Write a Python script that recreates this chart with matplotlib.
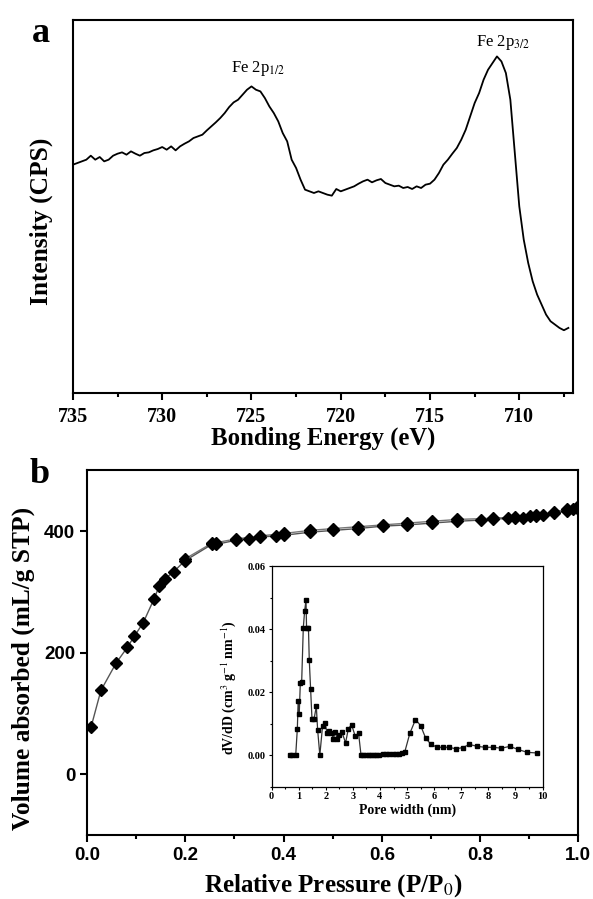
import numpy as np
import matplotlib.pyplot as plt
from matplotlib.ticker import MultipleLocator, NullLocator

# ---- panel a: Fe 2p XPS spectrum (arbitrary counts, 0.25 eV steps) ----
xps_start = 735.0
xps_end = 707.25
xps_counts = [685, 690, 695, 700, 712, 700, 708, 695, 700, 712, 718, 722, 715, 725, 718, 712,
              720, 722, 728, 732, 738, 730, 740, 728, 740, 748, 755, 765, 770, 775, 788, 800,
              812, 825, 840, 858, 872, 880, 895, 910, 920, 910, 905, 885, 860, 840, 815, 780,
              755, 700, 675, 640, 610, 605, 600, 605, 600, 595, 592, 612, 605, 610, 615, 620,
              628, 635, 640, 632, 638, 642, 630, 625, 620, 622, 615, 618, 612, 620, 615, 625,
              628, 640, 660, 685, 700, 718, 735, 760, 790, 830, 870, 900, 940, 970, 990, 1010,
              995, 960, 880, 720, 560, 460, 390, 335, 295, 265, 235, 215, 205, 195, 188, 195]
xps_energy = np.linspace(xps_start, xps_end, len(xps_counts))

# ---- panel b: N2 isotherm ----
p_ads = [0.008, 0.028, 0.059, 0.082, 0.096, 0.114, 0.136, 0.147, 0.158, 0.176, 0.199, 0.254,
         0.263, 0.304, 0.329, 0.353, 0.384, 0.401, 0.453, 0.501, 0.551, 0.602, 0.652, 0.702,
         0.754, 0.803, 0.826, 0.857, 0.871, 0.887, 0.902, 0.915, 0.929, 0.950, 0.978, 0.989, 0.998]
v_ads = [78, 138, 183, 209, 227, 249, 288, 310, 321, 333, 351, 378,
         378, 385, 387, 390, 392, 393, 398, 401, 404, 408, 410, 413,
         416, 418, 419, 421, 421, 422, 424, 425, 426, 429, 433, 436, 438]
p_des = [0.998, 0.978, 0.950, 0.915, 0.871, 0.826, 0.754, 0.702, 0.652, 0.602, 0.551, 0.501,
         0.453, 0.401, 0.353, 0.304, 0.263, 0.254, 0.199]
v_des = [440, 436, 431, 427, 423, 421, 419, 416, 413, 410, 407, 404,
         401, 396, 392, 387, 381, 380, 354]

# ---- inset: pore size distribution ----
pore_w = [0.68, 0.77, 0.89, 0.95, 0.98, 1.02, 1.06, 1.11, 1.17, 1.22, 1.27, 1.29, 1.36, 1.39,
          1.44, 1.49, 1.57, 1.65, 1.70, 1.78, 1.88, 1.97, 2.05, 2.13, 2.21, 2.28, 2.35, 2.42,
          2.50, 2.59, 2.73, 2.83, 2.95, 3.08, 3.21, 3.30, 3.38, 3.48, 3.58, 3.68, 3.78, 3.87,
          3.97, 4.10, 4.22, 4.34, 4.47, 4.59, 4.71, 4.81, 4.91, 5.10, 5.31, 5.50, 5.69, 5.89,
          6.11, 6.33, 6.56, 6.80, 7.05, 7.30, 7.59, 7.88, 8.18, 8.48, 8.79, 9.10, 9.43, 9.78]
dvdd = [0, 0, 0, 0.0084, 0.0172, 0.0131, 0.0229, 0.0233, 0.0405, 0.0459, 0.0493, 0.0405, 0.0405, 0.0303,
        0.0210, 0.0116, 0.0116, 0.0155, 0.0079, 0.0, 0.0092, 0.0102, 0.0069, 0.0077, 0.0071, 0.0052, 0.0073, 0.0052,
        0.0064, 0.0075, 0.0039, 0.0083, 0.0097, 0.0062, 0.0069, 0, 0, 0, 0, 0, 0, 0,
        0, 0.0004, 0.0004, 0.0003, 0.0003, 0.0004, 0.0005, 0.0006, 0.0009, 0.0069, 0.0113, 0.0094, 0.0053, 0.0034,
        0.0025, 0.0025, 0.0025, 0.0020, 0.0024, 0.0034, 0.0028, 0.0025, 0.0025, 0.0022, 0.0028, 0.0018, 0.0009, 0.0007]

serif = 'Liberation Serif'
sans = 'Liberation Sans'

fig = plt.figure(figsize=(5.93, 8.99), dpi=100)

# panel a
ax1 = fig.add_axes([0.123, 0.563, 0.843, 0.415])
ax1.plot(xps_energy, xps_counts, color='black', lw=1.3)
ax1.set_xlim(735, 707)
ax1.set_ylim(0, 1120)
ax1.xaxis.set_major_locator(MultipleLocator(5))
ax1.xaxis.set_minor_locator(MultipleLocator(2.5))
ax1.yaxis.set_major_locator(NullLocator())
ax1.tick_params(axis='x', which='major', direction='out', length=5, width=1.5, pad=5)
ax1.tick_params(axis='x', which='minor', direction='out', length=3, width=1.5)
for lab in ax1.get_xticklabels():
    lab.set_fontfamily(serif)
    lab.set_fontweight('bold')
    lab.set_fontsize(14.5)
ax1.set_xlabel('Bonding Energy (eV)', family=serif, weight='bold', fontsize=17.8, labelpad=0)
ax1.set_ylabel('Intensity (CPS)', family=serif, weight='bold', fontsize=18.3)
ax1.yaxis.set_label_coords(-0.04, 0.46)
for s in ax1.spines.values():
    s.set_linewidth(1.5)
ax1.text(724.6, 975, 'Fe 2p$_{1/2}$', family=serif, fontsize=12, ha='center', va='center',
         math_fontfamily='stix')
ax1.text(710.9, 1052, 'Fe 2p$_{3/2}$', family=serif, fontsize=12, ha='center', va='center',
         math_fontfamily='stix')
fig.text(0.069, 0.963, 'a', family=serif, weight='bold', fontsize=26, ha='center', va='center')

# panel b
ax2 = fig.add_axes([0.147, 0.071, 0.828, 0.406])
ax2.plot(p_des, v_des, color='#777777', lw=1.0, marker='D', ms=6, mfc='black', mec='black')
ax2.plot(p_ads, v_ads, color='#555555', lw=1.0, marker='D', ms=6, mfc='black', mec='black')
ax2.set_xlim(0, 1.0)
ax2.set_ylim(-100, 500)
ax2.xaxis.set_minor_locator(MultipleLocator(0.1))
ax2.yaxis.set_major_locator(MultipleLocator(200))
ax2.tick_params(which='major', direction='out', length=5, width=1.5)
ax2.tick_params(which='minor', direction='out', length=3, width=1.5)
ax2.set_xticks([0, 0.2, 0.4, 0.6, 0.8, 1.0])
ax2.set_xticklabels(['0.0', '0.2', '0.4', '0.6', '0.8', '1.0'])
for lab in ax2.get_xticklabels() + ax2.get_yticklabels():
    lab.set_fontfamily(sans)
    lab.set_fontweight('bold')
    lab.set_fontsize(13.5)
ax2.set_xlabel('Relative Pressure (P/P$_0$)', family=serif, weight='bold', fontsize=18,
               labelpad=6, math_fontfamily='stix')
ax2.set_ylabel('Volume absorbed (mL/g STP)', family=serif, weight='bold', fontsize=18.3)
ax2.yaxis.set_label_coords(-0.106, 0.456)
for s in ax2.spines.values():
    s.set_linewidth(1.5)
fig.text(0.067, 0.472, 'b', family=serif, weight='bold', fontsize=26, ha='center', va='center')

# inset
ax3 = fig.add_axes([0.458, 0.125, 0.457, 0.245])
ax3.plot(pore_w, dvdd, color='#333333', lw=0.9, marker='s', ms=3.2, mfc='black', mec='black')
ax3.set_xlim(0, 10)
ax3.set_ylim(-0.01, 0.06)
ax3.xaxis.set_major_locator(MultipleLocator(1))
ax3.xaxis.set_minor_locator(MultipleLocator(0.5))
ax3.yaxis.set_major_locator(MultipleLocator(0.02))
ax3.yaxis.set_minor_locator(MultipleLocator(0.01))
ax3.tick_params(which='major', direction='out', length=2.5, width=0.8, pad=1.5)
ax3.tick_params(which='minor', direction='out', length=1.5, width=0.8)
ax3.yaxis.set_major_formatter(plt.FuncFormatter(lambda v, p: '%.2f' % v))
for lab in ax3.get_xticklabels() + ax3.get_yticklabels():
    lab.set_fontfamily(serif)
    lab.set_fontweight('bold')
    lab.set_fontsize(7.5)
ax3.set_xlabel('Pore width (nm)', family=serif, weight='bold', fontsize=10, labelpad=2)
ax3.set_ylabel('dV/dD (cm$^3$ g$^{-1}$ nm$^{-1}$)', family=serif, weight='bold', fontsize=10,
               math_fontfamily='stix')
ax3.yaxis.set_label_coords(-0.125, 0.45)
for s in ax3.spines.values():
    s.set_linewidth(0.9)

fig.savefig('out.png', dpi=100)
